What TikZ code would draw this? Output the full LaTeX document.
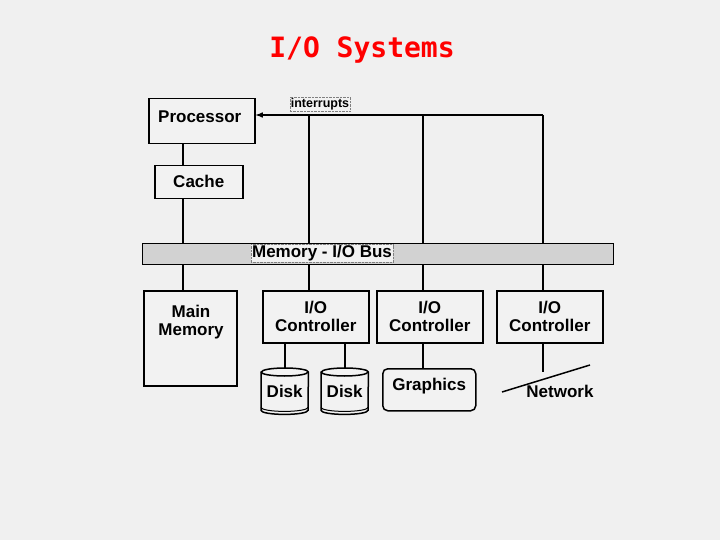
\documentclass[tikz,border=0pt]{standalone}
\usepackage{fontspec}
\setmainfont{Liberation Sans}
\newfontfamily\ttl{DejaVu Sans Mono}
\usetikzlibrary{calc}
\begin{document}
\begin{tikzpicture}[x=1pt,y=-1pt,
  box/.style={draw,line width=1.5pt,fill=white!90!gray},
  lbl/.style={font=\bfseries\fontsize{17}{18}\selectfont,align=center,inner sep=1pt},
  ln/.style={line width=1.5pt}]
\fill[gray!12] (0,0) rectangle (720,540);
\useasboundingbox (0,0) rectangle (720,540);
\node[text=red,font=\ttl\bfseries\fontsize{28}{29}\selectfont] (title) at (362,50) {I/O Systems};
% bus
\node[draw,line width=1pt,fill=gray!35,minimum width=471pt,minimum height=21pt,inner sep=0pt,anchor=north west] (bus) at (142,243) {};
\node[lbl,fill=gray!10,draw=gray,densely dotted] (busl) at (322,253.5) {Memory - I/O Bus};
% boxes
\node[box,minimum width=106pt,minimum height=45pt,anchor=north west] (proc) at (148,98) {};
\node[lbl] at ($(proc.center)+(-2,-5)$) {Processor};
\node[box,minimum width=88pt,minimum height=33pt,anchor=north west] (cache) at (154,165) {};
\node[lbl] at ($(cache.center)+(0,-1)$) {Cache};
\node[box,minimum width=93pt,minimum height=95pt,anchor=north west] (mem) at (143,290) {};
\node[lbl,anchor=north] at (191,304) {Main\\Memory};
\foreach \n/\x in {c1/262,c2/376,c3/496}{
  \node[box,minimum width=106pt,minimum height=52pt,anchor=north west] (\n) at (\x,290) {};
  \node[lbl] at (\n.center) {I/O\\Controller};
}
% disks
\foreach \n/\x in {d1/261,d2/321}{
  \node[minimum width=47pt,minimum height=46pt,anchor=north west,inner sep=0pt] (\n) at (\x,368) {};
  \draw[ln,fill=white!90!gray] ($(\n.north west)+(0,4)$) -- ($(\n.south west)+(0,-4)$) arc[start angle=180,end angle=360,x radius=23.5pt,y radius=4pt] -- ($(\n.north east)+(0,4)$) arc[start angle=0,end angle=180,x radius=23.5pt,y radius=4pt] -- cycle;
  \draw[ln] ($(\n.north west)+(0,4)$) arc[start angle=180,end angle=360,x radius=23.5pt,y radius=4pt];
  \draw[line width=1pt] ($(\n.south west)+(0,-7)$) arc[start angle=180,end angle=360,x radius=23.5pt,y radius=4pt];
  \node[lbl] at ($(\n.center)+(0,0)$) {Disk};
}
\node[box,rounded corners=5pt,minimum width=93pt,minimum height=42pt,anchor=north west] (gr) at (382,368) {};
\node[lbl] at ($(gr.center)+(0,-4)$) {Graphics};
\coordinate (na) at (502,392);
\coordinate (nb) at (590,365);
\coordinate (nt) at (543,372);
\node[lbl] (net) at (560,391) {Network};
\node[lbl,font=\bfseries\fontsize{12.5}{13}\selectfont,draw=gray,densely dotted,fill=gray!10] (intr) at (320,104) {interrupts};
% connectors
\draw[ln] (proc.south -| 183,0) -- (cache.north -| 183,0);
\draw[ln] (cache.south -| 183,0) -- (bus.north -| 183,0);
\draw[ln] (bus.south -| 183,0) -- (mem.north -| 183,0);
\coordinate (tr) at (543,115);
\draw[ln,-latex] (tr) -- (proc.east |- tr);
\foreach \n/\x in {c1/309,c2/423,c3/543}{
  \draw[ln] (\x,115) -- (bus.north -| \x,0);
  \draw[ln] (bus.south -| \x,0) -- (\n.north -| \x,0);
}
\draw[ln] (c1.south -| 285,0) -- (d1.north -| 285,0);
\draw[ln] (c1.south -| 345,0) -- (d2.north -| 345,0);
\draw[ln] (c2.south -| 423,0) -- (gr.north -| 423,0);
\draw[ln] (c3.south -| 543,0) -- (nt);
\draw[ln] (na) -- (nb);
\end{tikzpicture}
\end{document}
